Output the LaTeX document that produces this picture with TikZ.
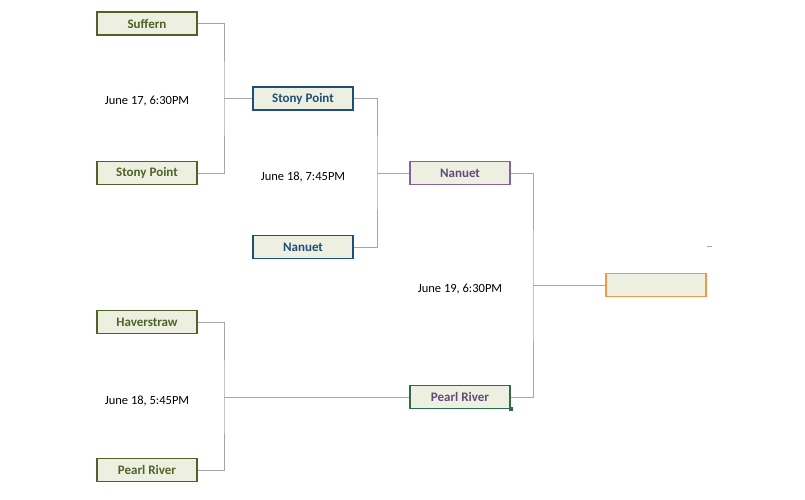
\documentclass[tikz,border=0pt]{standalone}
\usepackage{fontspec}
\setmainfont{Carlito}
\definecolor{fillc}{HTML}{EDF0E0}
\definecolor{olive}{HTML}{4F6228}
\definecolor{navy}{HTML}{1F4E79}
\definecolor{purp}{HTML}{8064A2}
\definecolor{purpt}{HTML}{604A7B}
\definecolor{grn}{HTML}{2E6B4A}
\definecolor{orng}{HTML}{F79646}
\definecolor{linec}{HTML}{A6A6A6}
\begin{document}
\begin{tikzpicture}[x=1pt,y=-1pt,
  team/.style={draw,fill=fillc,line width=1.6pt,minimum width=100pt,minimum height=23pt,inner sep=0pt,font=\bfseries\fontsize{13}{15}\selectfont},
  ol/.style={team,draw=olive,text=olive},
  bl/.style={team,draw=navy,text=navy},
  pu/.style={team,draw=purp,text=purpt},
  gr/.style={team,draw=grn,text=purpt},
  og/.style={team,draw=orng},
  lbl/.style={font=\fontsize{12.5}{15}\selectfont},
  conn/.style={draw=linec,line width=0.8pt}]
\useasboundingbox (0,0) rectangle (805,500);
\node[ol] (suf) at (147,23.5) {Suffern};
\node[ol] (sp1) at (147,173) {Stony Point};
\node[ol] (hav) at (147,322) {Haverstraw};
\node[ol] (pr1) at (147,470) {Pearl River};
\node[bl] (sp2) at (303,98.5) {Stony Point};
\node[bl] (nan1) at (303,247) {Nanuet};
\node[pu] (nan2) at (460,173) {Nanuet};
\node[gr] (pr2) at (460,397) {Pearl River};
\node[og] (fin) at (656,285) {};
\node[lbl] (l1) at (147,101) {June 17, 6:30PM};
\node[lbl] (l2) at (303,177) {June 18, 7:45PM};
\node[lbl] (l3) at (147,401) {June 18, 5:45PM};
\node[lbl] (l4) at (460,289) {June 19, 6:30PM};
\coordinate (j1) at (224,98.5);
\coordinate (j2) at (224,397);
\coordinate (j3) at (377,173);
\coordinate (j4) at (533,285);
\path[conn] (suf.east) -| (j1) |- (sp1.east);
\path[conn] (j1) -- (sp2.west);
\path[conn] (hav.east) -| (j2) |- (pr1.east);
\path[conn] (j2) -- (pr2.west);
\path[conn] (sp2.east) -| (j3) |- (nan1.east);
\path[conn] (j3) -- (nan2.west);
\path[conn] (nan2.east) -| (j4) |- (pr2.east);
\path[conn] (j4) -- (fin.west);
\fill[grn] ([xshift=-2pt,yshift=-2pt]pr2.south east) rectangle ([xshift=2pt,yshift=2pt]pr2.south east);
\coordinate (d1) at (707,246);
\coordinate (d2) at (712,246);
\path[conn] (d1) -- (d2);
\end{tikzpicture}
\end{document}
